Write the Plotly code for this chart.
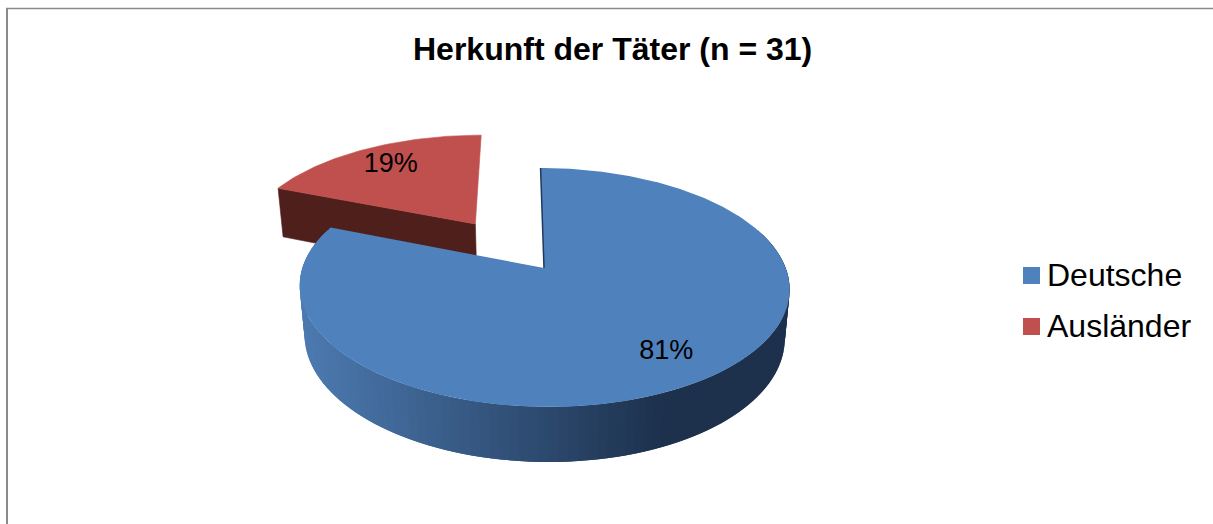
import numpy as np
import plotly.graph_objects as go

# data
categories = ['Deutsche', 'Ausländer']
shares = [81, 19]
title_text = 'Herkunft der Täter (n = 31)'

# colours
top_colors = ['#4f81bd', '#c0504d']
red_side = '#4f1f1c'
grad_left = np.array([76, 122, 176])
grad_right = np.array([29, 49, 77])

# perspective of the pie, in page pixels
X0, Y0 = 544, 268
A, B = 116.3, 241.7
K = 0.163
SHEAR = 4
DEPTH_Y, DEPTH_D = 50, 0.02
RED_EXPLODE = 0.5
RED_NUDGE = (-0.015, 0.01)
RED_DEPTH = 1.08
LABEL_R = [0.785, 0.76]


def project(u, v, z=0):
    d = 1 - K * v + DEPTH_D * z
    x = X0 + B * u / d + SHEAR * v / d
    y = Y0 + (A * v + DEPTH_Y * z) / d
    return x, y


def on_disc(theta, r=1, offset=(0, 0)):
    # theta in degrees, clockwise from the top of the pie
    t = np.radians(theta)
    return offset[0] + r * np.sin(t), offset[1] - r * np.cos(t)


def polygon(fig, xs, ys, color, edge=0.6):
    fig.add_trace(go.Scatter(
        x=xs, y=ys, mode='lines', fill='toself', fillcolor=color,
        line=dict(color=color, width=edge), hoverinfo='skip', showlegend=False
    ))


fractions = np.array(shares) / sum(shares)
blue_end = fractions[0] * 360
red_mid = (blue_end + 360) / 2
red_offset = on_disc(red_mid, RED_EXPLODE, RED_NUDGE)

fig = go.Figure()

# exploded slice: cut face, then top
ul, vl = on_disc(blue_end, 1, red_offset)
xa, ya = project(*red_offset)
xb, yb = project(*red_offset, RED_DEPTH)
xc, yc = project(ul, vl)
xd, yd = project(ul, vl, RED_DEPTH)
polygon(fig, [xc, xa, xb, xd, xc], [yc, ya, yb, yd, yc], red_side)

th = np.linspace(blue_end, 360, 60)
u, v = on_disc(th, 1, red_offset)
x, y = project(u, v)
polygon(fig, [xa, *x, xa], [ya, *y, ya], top_colors[1])

# main slice: shaded rim as overlapping strips, then top
th = np.linspace(70, 290, 111)
u, v = on_disc(th)
x1, y1 = project(u, v)
x2, y2 = project(u, v, 1)
for i in range(len(th) - 2):
    mid = (x1[i] + x1[i + 1]) / 2
    t = min(max((mid - 305) / 360, 0), 1)
    c = grad_left + (grad_right - grad_left) * t
    color = 'rgb(%d,%d,%d)' % tuple(c)
    polygon(fig,
            [x1[i], x1[i + 2], x2[i + 2], x2[i], x1[i]],
            [y1[i], y1[i + 2], y2[i + 2], y2[i], y1[i]], color, edge=0)

th = np.linspace(0, blue_end, 361)
u, v = on_disc(th)
xt, yt = project(u, v)
tx, ty = project(0, 0)
polygon(fig, [tx, *xt, tx], [ty, *yt, ty], top_colors[0], edge=0)

# dark edge of the cut at the top
fig.add_trace(go.Scatter(
    x=[xt[0], tx], y=[yt[0], ty], mode='lines',
    line=dict(color='#1f3a5c', width=1.5), hoverinfo='skip', showlegend=False
))

# percentage labels
lx1, ly1 = project(*on_disc(blue_end / 2, LABEL_R[0]))
lx2, ly2 = project(*on_disc(red_mid, LABEL_R[1], red_offset))
fig.add_trace(go.Scatter(
    x=[lx1, lx2], y=[ly1, ly2], mode='text',
    text=['%d%%' % s for s in shares],
    textfont=dict(family='Liberation Sans', size=27, color='black'),
    hoverinfo='skip', showlegend=False
))

# legend
legend_y = [275.5, 326.5]
fig.add_trace(go.Scatter(
    x=[1031.5] * 2, y=legend_y, mode='markers',
    marker=dict(symbol='square', size=17, color=top_colors, line=dict(width=0)),
    hoverinfo='skip', showlegend=False
))
for name, ypos in zip(categories, legend_y):
    fig.add_annotation(
        x=1045.5, y=ypos - 1, text=name, showarrow=False, xanchor='left',
        yanchor='middle', borderpad=0,
        font=dict(family='Liberation Sans', size=32, color='black')
    )

fig.add_annotation(
    x=612.5, y=49, text='<b>%s</b>' % title_text, showarrow=False,
    font=dict(family='Liberation Sans', size=32, color='black')
)

# chart frame, cropped at right and bottom
fig.add_shape(type='line', x0=6, x1=1213, y0=8.5, y1=8.5,
              line=dict(color='#8a8a8a', width=1.5))
fig.add_shape(type='line', x0=7, x1=7, y0=8, y1=524,
              line=dict(color='#8a8a8a', width=2))

fig.update_layout(
    width=1213,
    height=524,
    margin=dict(l=0, r=0, t=0, b=0),
    paper_bgcolor='white',
    plot_bgcolor='white',
    xaxis=dict(range=[0, 1213], visible=False),
    yaxis=dict(range=[524, 0], visible=False),
)

fig.write_html(
    "out.html",
    config=dict(displayModeBar=False),
    post_script="document.body.style.margin='0';document.body.style.overflow='hidden';"
)
